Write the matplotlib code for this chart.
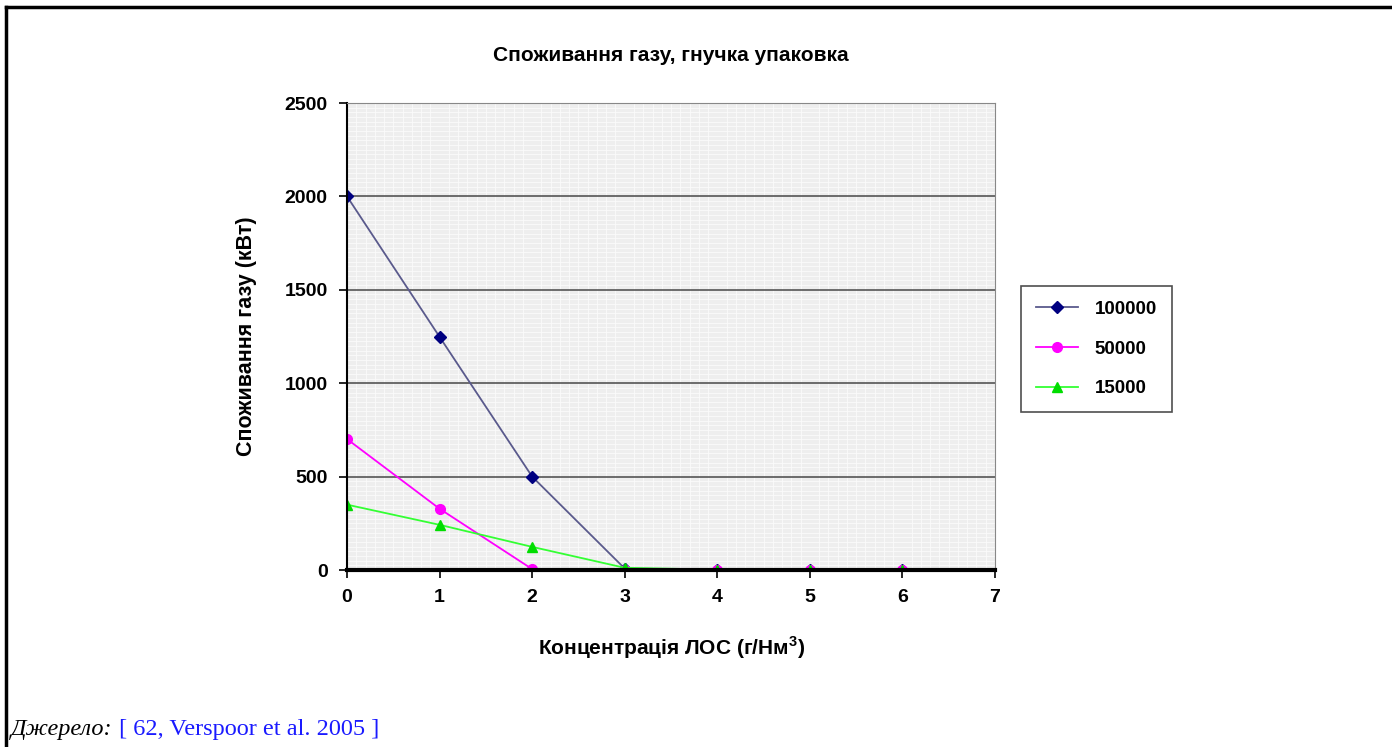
import numpy as np
import matplotlib.pyplot as plt
from matplotlib.lines import Line2D
from matplotlib.ticker import MultipleLocator

conc = [0, 1, 2, 3, 4, 5, 6]
gas_100000 = [2000, 1248, 500, 8, 2, 2, 2]
gas_50000 = [701, 328, 5, 2, 2, 2, 2]
gas_15000 = [350, 242, 124, 12, 2, 2, 2]
labels = ['100000', '50000', '15000']

plt.rcParams['font.family'] = ['Liberation Sans', 'DejaVu Sans']

fig = plt.figure(figsize=(13.92, 7.47), dpi=100)
ax = fig.add_axes([0.2493, 0.2369, 0.7148 - 0.2493, 0.8621 - 0.2369])

ax.set_facecolor('#eeeeee')
ax.xaxis.set_minor_locator(MultipleLocator(0.1))
ax.yaxis.set_minor_locator(MultipleLocator(25))
ax.grid(which='minor', color='#fbfbfb', lw=0.6)
ax.grid(which='major', axis='y', color='#555555', lw=1.2)
ax.tick_params(which='minor', length=0)
ax.set_axisbelow(True)

ax.plot(conc, gas_100000, color='#5a5a8c', lw=1.3, marker='D', ms=6,
        mfc='#000080', mec='#000080', label=labels[0])
ax.plot(conc, gas_50000, color='#ff00ff', lw=1.3, marker='o', ms=7,
        label=labels[1])
ax.plot(conc, gas_15000, color='#33ff33', lw=1.3, marker='^', ms=7,
        mfc='#00dd00', mec='#00dd00', label=labels[2])

ax.set_xlim(0, 7)
ax.set_ylim(0, 2500)
ax.set_xticks(range(0, 8))
ax.set_yticks(range(0, 2501, 500))
ax.tick_params(which='major', direction='out', length=6, width=1.2,
               labelsize=14, pad=8)
for t in ax.get_xticklabels() + ax.get_yticklabels():
    t.set_fontweight('bold')

ax.spines['left'].set_color('black')
ax.spines['left'].set_linewidth(1.5)
ax.spines['bottom'].set_color('black')
ax.spines['bottom'].set_linewidth(3)
ax.spines['top'].set_color('#888888')
ax.spines['right'].set_color('#888888')

ax.set_xlabel('Концентрація ЛОС (г/Нм$^{\\mathregular{3}}$)', fontsize=15,
              fontweight='bold', labelpad=20)
ax.set_ylabel('Споживання газу (кВт)', fontsize=15.5, fontweight='bold',
              labelpad=20)
fig.text(0.482, 0.926, 'Споживання газу, гнучка упаковка', ha='center',
         va='center', fontsize=15, fontweight='bold')

leg = fig.legend(loc='upper left', bbox_to_anchor=(0.727, 0.63),
                 frameon=True, fancybox=False, edgecolor='#222222',
                 fontsize=13.5, handlelength=2.2, labelspacing=1.2,
                 borderpad=0.8, handletextpad=0.9)
leg.get_frame().set_linewidth(1.2)
for t in leg.get_texts():
    t.set_fontweight('bold')

# outer frame (top and left)
fig.add_artist(Line2D([6 / 1392, 1], [1 - 7 / 747, 1 - 7 / 747], color='black',
                      lw=2.5, transform=fig.transFigure))
fig.add_artist(Line2D([6 / 1392, 6 / 1392], [0, 1 - 7 / 747], color='black',
                      lw=2.5, transform=fig.transFigure))

src = fig.text(11 / 1392, 1 - 735 / 747, 'Джерело:', family='Liberation Serif',
               style='italic', fontsize=17.5, va='baseline')
ref = fig.text(0, 1 - 735 / 747, ' [ 62, Verspoor et al. 2005 ]',
               family='Liberation Serif', color='#1a1aff', fontsize=17.5,
               va='baseline')
fig.canvas.draw()
bb = src.get_window_extent()
ref.set_x(bb.x1 / fig.bbox.width)

fig.savefig('out.png', dpi=100)
